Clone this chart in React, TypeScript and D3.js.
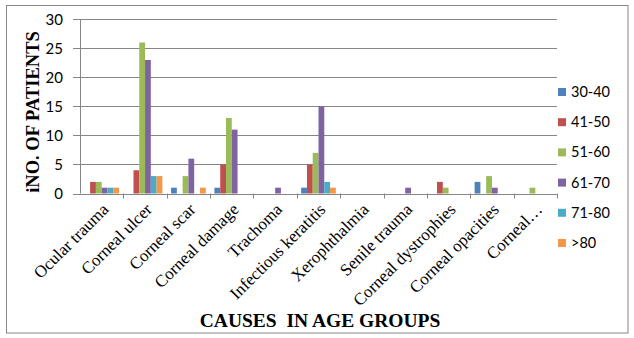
import React from "react";
import * as d3 from "d3";

const categories = [
  "Ocular trauma",
  "Corneal ulcer",
  "Corneal scar",
  "Corneal damage",
  "Trachoma",
  "Infectious keratitis",
  "Xerophthalmia",
  "Senile trauma",
  "Corneal dystrophies",
  "Corneal opacities",
  "Corneal…",
];
const seriesNames = ["30-40", "41-50", "51-60", "61-70", "71-80", ">80"];
const s3040 = [0, 0, 1, 1, 0, 1, 0, 0, 0, 2, 0];
const s4150 = [2, 4, 0, 5, 0, 5, 0, 0, 2, 0, 0];
const s5160 = [2, 26, 3, 13, 0, 7, 0, 0, 1, 3, 1];
const s6170 = [1, 23, 6, 11, 1, 15, 0, 1, 0, 1, 0];
const s7180 = [1, 3, 0, 0, 0, 2, 0, 0, 0, 0, 0];
const s80 = [1, 3, 1, 0, 0, 1, 0, 0, 0, 0, 0];
const seriesValues = [s3040, s4150, s5160, s6170, s7180, s80];
const colors = ["#4F81BD", "#C0504D", "#9BBB59", "#8064A2", "#4BACC6", "#F79646"];
const yTicks = [0, 5, 10, 15, 20, 25, 30];

export default function App() {
  const W = 634;
  const H = 338;
  const left = 80;
  const right = 557;
  const top = 19.3;
  const bottom = 193.5;

  const x = d3.scaleBand<string>().domain(categories).range([left, right]).paddingInner(0).paddingOuter(0);
  const y = d3.scaleLinear().domain([0, 30]).range([bottom, top]);
  const inner = d3
    .scaleBand<string>()
    .domain(seriesNames)
    .range([0, x.bandwidth()])
    .paddingOuter(0.75)
    .paddingInner(0);

  const serif = "'Liberation Serif', 'Times New Roman', serif";
  const sans = "Lato, 'Open Sans', sans-serif";

  return (
    <svg
      width={W}
      height={H}
      style={{ position: "absolute", left: 0, top: 0, background: "#fff" }}
    >
      <rect x={6.5} y={5.5} width={621.5} height={327.5} fill="#fff" stroke="#868686" strokeWidth={1} />
      {yTicks.map((t) => (
        <g key={t}>
          {t > 0 && (
            <line x1={left} x2={right} y1={Math.round(y(t)) + 0.5} y2={Math.round(y(t)) + 0.5} stroke="#868686" strokeWidth={1} />
          )}
          <line x1={left - 7} x2={left} y1={Math.round(y(t)) + 0.5} y2={Math.round(y(t)) + 0.5} stroke="#868686" />
          <text x={63} y={y(t)} dy="0.35em" textAnchor="end" fontFamily={sans} fontSize={15} fill="#000">
            {t}
          </text>
        </g>
      ))}
      {seriesValues.map((vals, si) =>
        vals.map((v, ci) =>
          v > 0 ? (
            <rect
              key={`${si}-${ci}`}
              x={(x(categories[ci]) as number) + (inner(seriesNames[si]) as number)}
              y={y(v)}
              width={inner.bandwidth()}
              height={y(0) - y(v)}
              fill={colors[si]}
            />
          ) : null
        )
      )}
      <line x1={left + 0.5} x2={left + 0.5} y1={top} y2={bottom} stroke="#868686" />
      <line x1={left} x2={right} y1={Math.round(bottom) + 0.5} y2={Math.round(bottom) + 0.5} stroke="#868686" />
      {categories.map((c, i) => (
        <line
          key={"t" + i}
          x1={Math.round((x(c) as number) + x.bandwidth()) + 0.5}
          x2={Math.round((x(c) as number) + x.bandwidth()) + 0.5}
          y1={bottom}
          y2={bottom + 5}
          stroke="#868686"
        />
      ))}
      {categories.map((c, i) => {
        const cx = (x(c) as number) + x.bandwidth() / 2 + 8;
        const cy = bottom + 17;
        return (
          <text
            key={"l" + i}
            transform={`translate(${cx},${cy}) rotate(-45)`}
            textAnchor="end"
            fontFamily={serif}
            fontSize={17}
            fill="#000"
          >
            {c}
          </text>
        );
      })}
      <text
        transform={`translate(39,112) rotate(-90)`}
        textAnchor="middle"
        fontFamily={serif}
        fontWeight="bold"
        fontSize={18.5}
        fill="#000"
      >
        iNO. OF PATIENTS
      </text>
      <text x={320} y={327} textAnchor="middle" fontFamily={serif} fontWeight="bold" fontSize={19.5} fill="#000" style={{ whiteSpace: "pre" }}>
        CAUSES  IN AGE GROUPS
      </text>
      {seriesNames.map((s, i) => {
        const ly = 92 + i * 30.2;
        return (
          <g key={s}>
            <rect x={558} y={ly - 4} width={8} height={8} fill={colors[i]} />
            <text x={571} y={ly} dy="0.35em" fontFamily={sans} fontSize={14.5} fill="#000">
              {s}
            </text>
          </g>
        );
      })}
    </svg>
  );
}
